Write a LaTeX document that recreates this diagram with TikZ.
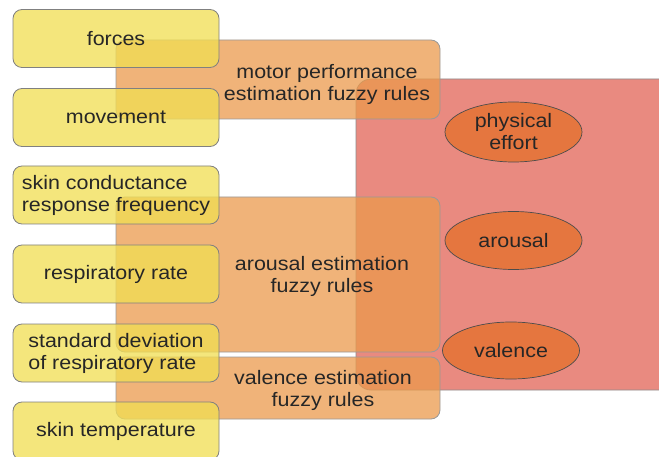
\documentclass[tikz,border=0pt]{standalone}
\usepackage{fontspec}
\setmainfont{Liberation Sans}[FakeStretch=1.1]
\usepackage{tikz}
\usetikzlibrary{shapes,backgrounds,positioning}
\definecolor{inyellow}{RGB}{241,222,83}
\definecolor{ruleorange}{RGB}{235,154,76}
\definecolor{outred}{RGB}{233,138,128}
\definecolor{outellipse}{RGB}{229,118,63}

\begin{document}
\begin{tikzpicture}[x=1pt,y=-1pt,
        every node/.style={font=\fontsize{19.5}{22}\selectfont,text=black!85},
        inbox/.style={rectangle,rounded corners=9pt,draw=black!50,line width=0.8pt,fill=inyellow,fill opacity=0.76,text opacity=1,minimum width=206pt,minimum height=58pt,inner sep=0pt},
        rulebox/.style={rectangle,rounded corners=9pt,draw=black!40,line width=0.8pt,fill=ruleorange,fill opacity=0.75,minimum width=324pt,inner sep=0pt},
        outellipse/.style={ellipse,draw=black!70,line width=0.7pt,fill=outellipse,minimum width=137pt,minimum height=58pt,inner sep=0pt,align=center}]
        \useasboundingbox (0,0) rectangle (659,457);

        % outputs
        \node[rectangle,rounded corners=15pt,draw=black!45,line width=0.8pt,fill=outred,minimum width=324pt,minimum height=311pt] (outputs) at (518,234.5) {};
        \node[outellipse,minimum height=60pt] (effort) at (513.5,132) {physical\\effort};
        \node[outellipse] (arousal) at (513.5,240.5) {arousal};
        \node[outellipse,minimum height=57pt] (valence) at (511,350.5) {valence};

        % fuzzy rules
        \node[rulebox,minimum height=79pt] (motorrules) at (278,79.5) {};
        \node[rulebox,minimum height=155pt] (arousalrules) at (278,274.5) {};
        \node[rulebox,minimum height=62pt] (valencerules) at (278,388) {};
        \node[align=center] (motortext) at (327,84) {motor performance\\estimation fuzzy rules};
        \node[align=center] (arousaltext) at (322,276) {arousal estimation\\fuzzy rules};
        \node[align=center] (valencetext) at (323,390) {valence estimation\\fuzzy rules};

        % inputs
        \node[inbox,text depth=-3pt] (forces) at (116,38.5) {forces};
        \node[inbox] (movement) at (116,117.5) {movement};
        \node[inbox,align=left] (skincond) at (116,195) {skin conductance\\response frequency};
        \node[inbox] (resprate) at (116,274) {respiratory rate};
        \node[inbox,align=left] (respdev) at (116,353) {standard deviation\\of respiratory rate};
        \node[inbox] (skintemp) at (116,431) {skin temperature};
\end{tikzpicture}
\end{document}
